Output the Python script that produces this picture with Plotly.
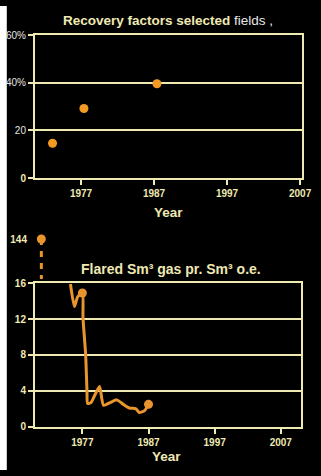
import plotly.graph_objects as go

# ---- data ----
recovery_years = [1973.1, 1977.4, 1987.4]
recovery_values = [14.6, 29.2, 39.6]

flared_years = [1975.2, 1975.8, 1976.3, 1977.0, 1977.1, 1977.5, 1977.7, 1977.8, 1978.3, 1978.8,
                1979.6, 1980.2, 1981.2, 1982.2, 1983.2, 1984.1, 1985.1, 1985.6, 1986.4, 1987.0]
flared_values = [15.9, 13.4, 14.5, 14.9, 12.1, 8.0, 4.0, 2.6, 2.7, 3.4,
                 4.5, 2.4, 2.7, 3.0, 2.5, 2.1, 2.0, 1.6, 1.8, 2.5]
flared_marker_years = [1977.0, 1987.0]
flared_marker_values = [14.9, 2.5]

outlier_year = [1970.8]
outlier_value = [144]

year_ticks = [1977, 1987, 1997, 2007]
top_y_ticks = [0, 20, 40, 60]
top_y_labels = ["0", "20", "40%", "60%"]
bottom_y_ticks = [0, 4, 8, 12, 16]

# ---- styles ----
CREAM = "#efe9b2"
ORANGE = "#f39a23"
LINE_ORANGE = "#e9952e"
W = 321
H = 476
BREAK_MIN = 137
BREAK_MAX = 145.2

fig = go.Figure()

# top: recovery factors
fig.add_trace(go.Scatter(x=recovery_years, y=recovery_values, mode="markers",
                         marker=dict(color=ORANGE, size=9), xaxis="x", yaxis="y",
                         showlegend=False, cliponaxis=False))

# bottom: flared gas
fig.add_trace(go.Scatter(x=flared_years, y=flared_values, mode="lines",
                         line=dict(color=LINE_ORANGE, width=3, shape="spline", smoothing=0.6),
                         xaxis="x2", yaxis="y2", showlegend=False, cliponaxis=False))
fig.add_trace(go.Scatter(x=flared_marker_years, y=flared_marker_values, mode="markers",
                         marker=dict(color=LINE_ORANGE, size=9),
                         xaxis="x2", yaxis="y2", showlegend=False, cliponaxis=False))

# broken-axis outlier
fig.add_trace(go.Scatter(x=outlier_year * 2, y=[outlier_value[0], BREAK_MIN], mode="lines",
                         line=dict(color=LINE_ORANGE, width=3, dash="6px,6px"),
                         xaxis="x3", yaxis="y3", showlegend=False, cliponaxis=False))
fig.add_trace(go.Scatter(x=outlier_year, y=outlier_value, mode="markers",
                         marker=dict(color=LINE_ORANGE, size=9),
                         xaxis="x3", yaxis="y3", showlegend=False, cliponaxis=False))

def px_x(p):
    return p / W

def px_y(p):
    return 1 - p / H

bold_font = dict(family="Liberation Sans, Arial", size=10, color=CREAM, weight=700)

top_labels = []
for v, t in zip(top_y_ticks, top_y_labels):
    if v == 0:
        top_labels.append("<b><span style='color:%s'>%s</span></b>" % (CREAM, t))
    else:
        top_labels.append(t)

common_axis = dict(showline=True, linecolor=CREAM, linewidth=2, mirror=True,
                   zeroline=False, ticks="outside", tickcolor=CREAM, tickwidth=2)

fig.update_layout(
    width=W, height=H,
    margin=dict(l=0, r=0, t=0, b=0),
    paper_bgcolor="black",
    plot_bgcolor="black",
    shapes=[dict(type="rect", xref="paper", yref="paper", x0=0, x1=px_x(7), y0=0, y1=1,
                 fillcolor="white", line=dict(width=0), layer="below")],
    xaxis=dict(domain=[px_x(36), px_x(311)], range=[1970.7, 2007.3], tickvals=year_ticks,
               ticklen=5, tickfont=bold_font, showgrid=False, anchor="y", **common_axis),
    yaxis=dict(domain=[px_y(176.5), px_y(30)], range=[0, 60], tickvals=top_y_ticks,
               ticktext=top_labels, ticklen=5,
               tickfont=dict(family="Liberation Sans, Arial", size=10, color="#e6e6e6"),
               showgrid=True, gridcolor=CREAM, gridwidth=2, anchor="x", **common_axis),
    xaxis2=dict(domain=[px_x(36), px_x(310)], range=[1969.84, 2010.1], tickvals=year_ticks,
                ticklen=5, tickfont=bold_font, showgrid=False, anchor="y2", **common_axis),
    yaxis2=dict(domain=[px_y(431.7), px_y(284.3)], range=[0, 16], tickvals=bottom_y_ticks,
                ticklen=5, tickfont=bold_font, showgrid=True, gridcolor=CREAM, gridwidth=2,
                anchor="x2", **common_axis),
    xaxis3=dict(domain=[px_x(36), px_x(310)], range=[1969.84, 2010.1], visible=False,
                anchor="y3"),
    yaxis3=dict(domain=[px_y(280), px_y(232)], range=[BREAK_MIN, BREAK_MAX], tickvals=outlier_value,
                ticks="outside", ticklen=5, tickcolor="rgba(0,0,0,0)", showline=False,
                showgrid=False, zeroline=False, tickfont=bold_font, anchor="x3"),
    annotations=[
        dict(x=px_x(63), y=px_y(15), xref="paper", yref="paper", xanchor="left", yanchor="middle",
             showarrow=False,
             text="<b><span style='color:%s'>Recovery factors selected</span></b>"
                  "<span style='color:#e8e8e8'> fields ,</span>" % CREAM,
             font=dict(family="Liberation Sans, Arial", size=13.5)),
        dict(x=px_x(173), y=px_y(211.5), xref="paper", yref="paper", showarrow=False,
             xanchor="center", yanchor="middle",
             text="<b>Year</b>", font=dict(family="Liberation Sans, Arial", size=13.5, color=CREAM)),
        dict(x=px_x(176), y=px_y(270), xref="paper", yref="paper", showarrow=False,
             xanchor="center", yanchor="middle",
             text="<b>Flared Sm³ gas pr. Sm³ o.e.</b>",
             font=dict(family="Liberation Sans, Arial", size=14, color=CREAM)),
        dict(x=px_x(171), y=px_y(462), xref="paper", yref="paper", showarrow=False,
             xanchor="center", yanchor="middle",
             text="<b>Year</b>", font=dict(family="Liberation Sans, Arial", size=13.5, color=CREAM)),
    ],
)

post = (
    "document.documentElement.style.margin='0px';"
    "document.documentElement.style.overflow='hidden';"
    "document.documentElement.style.background='black';"
    "document.body.style.margin='0px';"
    "document.body.style.overflow='hidden';"
    "document.body.style.background='black';"
)

fig.write_html("out.html", post_script=post, config={"displayModeBar": False})
